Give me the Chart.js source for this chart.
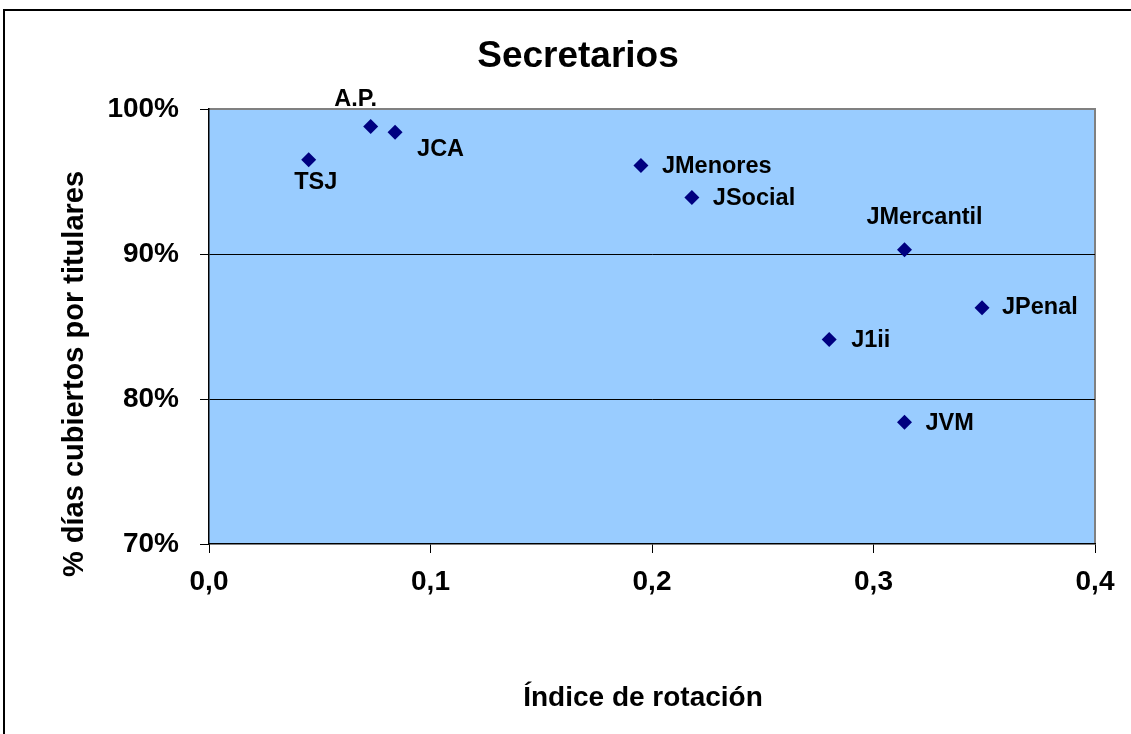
<!DOCTYPE html>
<html>
<head>
<meta charset="utf-8">
<title>Secretarios</title>
<script src="https://cdn.jsdelivr.net/npm/chart.js@4/dist/chart.umd.min.js"></script>
<style>
  html, body { margin: 0; padding: 0; background: #fff; }
  canvas { display: block; }
</style>
</head>
<body>
<canvas id="chart" width="1131" height="734"></canvas>
<script>
// data
const organos = ["TSJ", "A.P.", "JCA", "JMenores", "JSocial", "JMercantil", "JPenal", "J1ii", "JVM"];
const indiceRotacion = [0.045, 0.073, 0.084, 0.195, 0.218, 0.314, 0.349, 0.280, 0.314];
const pctCubiertos = [96.5, 98.8, 98.4, 96.1, 93.9, 90.3, 86.3, 84.1, 78.4];
const xTicks = [0, 0.1, 0.2, 0.3, 0.4];
const yTicks = [70, 80, 90, 100];

const FONT = "'Liberation Sans', Arial, sans-serif";

// where each point label sits relative to its marker
const labelPos = {
  "TSJ":        { dx: 7,   dy: 23,  align: "center" },
  "A.P.":       { dx: -15, dy: -27, align: "center" },
  "JCA":        { dx: 22,  dy: 17,  align: "left" },
  "JMenores":   { dx: 21,  dy: 1,   align: "left" },
  "JSocial":    { dx: 21,  dy: 1,   align: "left" },
  "JMercantil": { dx: 20,  dy: -32, align: "center" },
  "JPenal":     { dx: 20,  dy: 0,   align: "left" },
  "J1ii":       { dx: 22,  dy: 1,   align: "left" },
  "JVM":        { dx: 21,  dy: 1,   align: "left" }
};

const points = indiceRotacion.map((x, i) => ({ x, y: pctCubiertos[i] }));

const frame = {
  id: "frame",
  beforeDraw(chart){
    const { ctx, chartArea: a } = chart;
    ctx.save();
    // outer frame (only top/left visible in the crop)
    ctx.strokeStyle = "#000";
    ctx.lineWidth = 2;
    ctx.beginPath();
    ctx.moveTo(4, 734);
    ctx.lineTo(4, 10);
    ctx.lineTo(1131, 10);
    ctx.stroke();
    // plot area
    ctx.fillStyle = "#99CCFF";
    ctx.fillRect(a.left, a.top, a.right - a.left, a.bottom - a.top);
    ctx.strokeStyle = "#808080";
    ctx.lineWidth = 2;
    ctx.beginPath();
    ctx.moveTo(a.left, a.top);
    ctx.lineTo(a.right, a.top);
    ctx.lineTo(a.right, a.bottom);
    ctx.stroke();
    ctx.restore();
  },
  afterDraw(chart){
    const { ctx } = chart;
    ctx.save();
    ctx.fillStyle = "#000";
    ctx.textBaseline = "middle";
    ctx.textAlign = "center";
    ctx.font = "bold 37px " + FONT;
    ctx.fillText("Secretarios", 578, 57);
    ctx.font = "bold 28px " + FONT;
    ctx.fillText("Índice de rotación", 643, 698);
    ctx.save();
    ctx.translate(75, 374);
    ctx.rotate(-Math.PI / 2);
    ctx.font = "bold 29px " + FONT;
    ctx.fillText("% días cubiertos por titulares", 0, 0);
    ctx.restore();

    // point labels
    const meta = chart.getDatasetMeta(0);
    ctx.font = "bold 23.5px " + FONT;
    meta.data.forEach((pt, i) => {
      const p = labelPos[organos[i]];
      ctx.textAlign = p.align;
      ctx.fillText(organos[i], pt.x + p.dx, pt.y + p.dy);
    });
    ctx.restore();
  }
};

new Chart(document.getElementById("chart"), {
  type: "scatter",
  data: {
    datasets: [{
      label: "Secretarios",
      data: points,
      pointStyle: "rectRot",
      pointRadius: 7.5,
      pointHoverRadius: 7.5,
      backgroundColor: "#000080",
      borderColor: "#000080",
      borderWidth: 0
    }]
  },
  options: {
    responsive: false,
    animation: false,
    devicePixelRatio: 1,
    layout: { padding: { top: 109, right: 36, left: 0, bottom: 0 } },
    plugins: {
      legend: { display: false },
      tooltip: { enabled: false }
    },
    scales: {
      x: {
        type: "linear",
        min: xTicks[0],
        max: xTicks[xTicks.length - 1],
        afterFit(s){ s.height = 190; },
        afterBuildTicks(s){ s.ticks = xTicks.map(v => ({ value: v })); },
        grid: {
          drawOnChartArea: false,
          tickLength: 9,
          tickColor: "#000",
          tickWidth: 1
        },
        border: { display: true, color: "#000", width: 1.5 },
        ticks: {
          color: "#000",
          padding: 12,
          font: { family: FONT, size: 28, weight: "bold" },
          callback: v => v.toFixed(1).replace(".", ",")
        }
      },
      y: {
        type: "linear",
        min: yTicks[0],
        max: yTicks[yTicks.length - 1],
        afterFit(s){ s.width = 209; },
        afterBuildTicks(s){ s.ticks = yTicks.map(v => ({ value: v })); },
        grid: {
          color: ctx => (ctx.tick && (ctx.tick.value === 80 || ctx.tick.value === 90)) ? "#000" : "rgba(0,0,0,0)",
          lineWidth: 1,
          tickLength: 9,
          tickColor: "#000",
          tickWidth: 1
        },
        border: { display: true, color: "#000", width: 1.5 },
        ticks: {
          color: "#000",
          padding: 21,
          font: { family: FONT, size: 28, weight: "bold" },
          callback: v => v + "%"
        }
      }
    }
  },
  plugins: [frame]
});
</script>
</body>
</html>
